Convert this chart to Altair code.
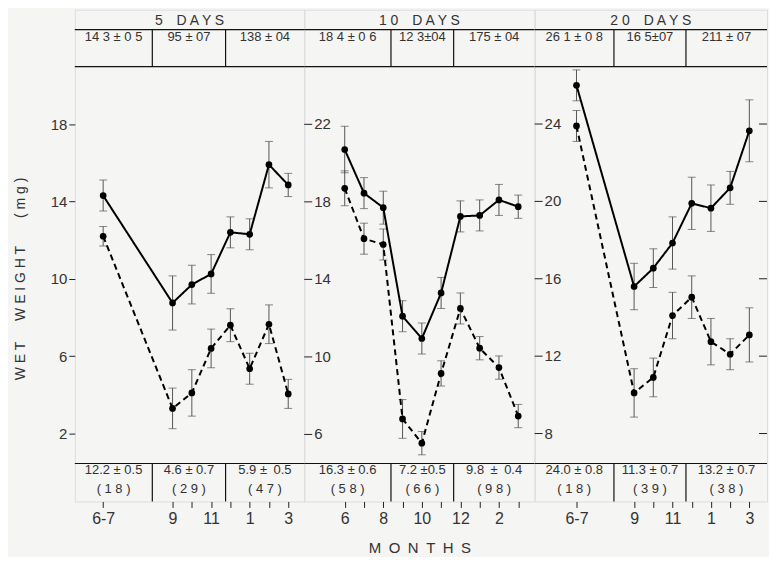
import altair as alt
import pandas as pd

# ---------------- data ----------------
SP = "\u2002"
PANEL_TITLES = ["5" + SP * 2 + "D A Y S", "1 0" + SP * 2 + "D A Y S", "2 0" + SP * 2 + "D A Y S"]
HEADER_VALUES = [
    ["14 3 ± 0 5", "95 ± 07", "138 ± 04"],
    ["18 4 ± 0 6", "12 3±04", "175 ± 04"],
    ["26 1 ± 0 8", "16 5±07", "211 ± 07"],
]
FOOTER_MEANS = [
    ["12.2 ± 0.5", "4.6 ± 0.7", "5.9 ±" + SP + "0.5"],
    ["16.3 ± 0.6", "7.2 ±0.5", "9.8" + SP + "±" + SP + "0.4"],
    ["24.0 ± 0.8", "11.3 ± 0.7", "13.2 ± 0.7"],
]
FOOTER_COUNTS = [
    ["( 1 8 )", "( 2 9 )", "( 4 7 )"],
    ["( 5 8 )", "( 6 6 )", "( 9 8 )"],
    ["( 1 8 )", "( 3 9 )", "( 3 8 )"],
]
Y_TITLE = "W E T" + SP * 3 + "W E I G H T" + SP * 4 + "( m g )"
X_TITLE = SP.join(list("MONTHS"))

# month positions (6-7 group, then monthly Sep..Mar)
P1_POS = [5.4, 9, 10, 11, 12, 13, 14, 15]
P2_POS = [6, 7, 8, 9, 10, 11, 12, 13, 14, 15]
P3_POS = [6, 9, 10, 11, 12, 13, 14, 15]
P1_TICKLABELS = ["6-7", "9", "", "11", "", "1", "", "3"]
P2_TICKLABELS = ["6", "", "8", "", "10", "", "12", "", "2", ""]
P3_TICKLABELS = ["6-7", "9", "", "11", "", "1", "", "3"]

P1_SOLID = [14.3, 8.75, 9.7, 10.25, 12.4, 12.3, 15.9, 14.85]
P1_SOLID_ERR = [0.8, 1.4, 1.0, 1.0, 0.8, 0.8, 1.2, 0.6]
P1_DASH = [12.2, 3.3, 4.1, 6.4, 7.6, 5.35, 7.65, 4.05]
P1_DASH_ERR = [0.5, 1.05, 1.2, 1.0, 0.85, 0.8, 1.0, 0.75]

P2_SOLID = [20.7, 18.45, 17.7, 12.1, 10.95, 13.3, 17.25, 17.3, 18.1, 17.75]
P2_SOLID_ERR = [1.2, 0.8, 0.85, 0.8, 0.8, 0.8, 0.8, 0.8, 0.8, 0.6]
P2_DASH = [18.7, 16.1, 15.8, 6.8, 5.55, 9.15, 12.5, 10.45, 9.45, 6.95]
P2_DASH_ERR = [0.9, 0.8, 0.8, 1.0, 0.6, 0.65, 0.8, 0.6, 0.6, 0.6]

P3_SOLID = [26.0, 15.6, 16.55, 17.85, 19.9, 19.65, 20.7, 23.65]
P3_SOLID_ERR = [0.8, 1.2, 1.0, 1.35, 1.35, 1.2, 0.85, 1.6]
P3_DASH = [23.9, 10.1, 10.9, 14.1, 15.05, 12.75, 12.1, 13.1]
P3_DASH_ERR = [0.8, 1.25, 1.0, 1.2, 1.1, 1.2, 0.8, 1.4]

Y_TICKS = [[2, 6, 10, 14, 18], [6, 10, 14, 18, 22], [8, 12, 16, 20, 24]]

PANELS = [
    (P1_POS, P1_TICKLABELS, P1_SOLID, P1_SOLID_ERR, P1_DASH, P1_DASH_ERR),
    (P2_POS, P2_TICKLABELS, P2_SOLID, P2_SOLID_ERR, P2_DASH, P2_DASH_ERR),
    (P3_POS, P3_TICKLABELS, P3_SOLID, P3_SOLID_ERR, P3_DASH, P3_DASH_ERR),
]

# ---------------- layout ----------------
WIDTHS = [230, 231, 233]
H = 493
ROW1 = 20
PLOT_TOP = 57
PLOT_BOT = 455
X_DOMAINS = [[3.93, 15.83], [3.9, 15.85], [3.82, 15.92]]
Y_DOMAINS = [[0.45, 20.97], [4.5, 24.98], [6.45, 26.97]]
DIVIDERS = [[7.95, 11.75], [8.4, 11.65], [7.95, 11.7]]
FONT = "Liberation Sans"
TXT = "#333333"
ONE = pd.DataFrame({"k": [0]})


def label_expr(pos, labels):
    expr = "''"
    for p, l in reversed(list(zip(pos, labels))):
        expr = f"datum.value == {p} ? '{l}' : ({expr})"
    return expr


def make_panel(i):
    pos, labels, solid, serr, dash, derr = PANELS[i]
    W = WIDTHS[i]
    rows = []
    for s, vals, errs in (("solid", solid, serr), ("dashed", dash, derr)):
        for t, v, e in zip(pos, vals, errs):
            rows.append(dict(t=t, v=v, lo=v - e, hi=v + e, series=s))
    df = pd.DataFrame(rows)
    caps = pd.concat([df.assign(c=df["lo"]), df.assign(c=df["hi"])])

    xs = alt.Scale(domain=X_DOMAINS[i], nice=False, zero=False)
    ys = alt.Scale(domain=Y_DOMAINS[i], range=[PLOT_BOT, PLOT_TOP], nice=False, zero=False)
    xaxis = alt.Axis(
        values=pos, labelExpr=label_expr(pos, labels), tickSize=6, domain=False,
        grid=False, labelFontSize=16, labelPadding=3, labelColor=TXT, labelFont=FONT,
        tickColor="#222", labelFlush=False,
        title=X_TITLE if i == 1 else None, titleFontSize=15, titleFont=FONT,
        titleColor=TXT, titleFontWeight="normal", titlePadding=14,
    )
    if i == 0:
        yaxis = alt.Axis(values=Y_TICKS[0], title=None, grid=False, domain=False, tickSize=6,
                         labelFontSize=15, labelColor=TXT, labelFont=FONT, tickColor="#222")
    else:
        yaxis = None

    def X(f):
        return alt.X(f, type="quantitative", scale=xs, axis=xaxis)

    def Y(f):
        return alt.Y(f, type="quantitative", scale=ys, axis=yaxis)

    layers = []
    layers.append(alt.Chart(df).mark_rule(color="#555", strokeWidth=1).encode(
        x=X("t"), y=Y("lo"), y2="hi"))
    layers.append(alt.Chart(caps).mark_tick(orient="horizontal", size=8, thickness=1, color="#555").encode(
        x=X("t"), y=Y("c")))
    layers.append(alt.Chart(df).mark_line(color="black", strokeWidth=2).encode(
        x=X("t"), y=Y("v"),
        strokeDash=alt.StrokeDash("series:N", scale=alt.Scale(domain=["solid", "dashed"], range=[[1, 0], [6, 4]]), legend=None)))
    layers.append(alt.Chart(df).mark_circle(size=45, color="black", opacity=1).encode(
        x=X("t"), y=Y("v")))

    # inner y ticks and labels (panels 2, 3)
    if i > 0:
        tdf = pd.DataFrame({"v": Y_TICKS[i], "lab": [str(v) for v in Y_TICKS[i]]})
        layers.append(alt.Chart(tdf).mark_rule(color="#222", strokeWidth=1).encode(
            x=alt.value(0), x2=alt.value(8), y=Y("v")))
        layers.append(alt.Chart(tdf).mark_text(align="left", baseline="middle", fontSize=15, font=FONT, color=TXT).encode(
            x=alt.value(10), y=Y("v"), text="lab:N"))
        if i == 2:
            layers.append(alt.Chart(tdf).mark_rule(color="#222", strokeWidth=1).encode(
                x=alt.value(W - 8), x2=alt.value(W), y=Y("v")))

    # table lines
    for yy in (ROW1, PLOT_TOP, PLOT_BOT):
        layers.append(alt.Chart(ONE).mark_rule(color="#111", strokeWidth=1.2).encode(
            x=alt.value(0), x2=alt.value(W), y=alt.value(yy)))
    ddf = pd.DataFrame({"t": DIVIDERS[i]})
    layers.append(alt.Chart(ddf).mark_rule(color="#111", strokeWidth=1.2).encode(
        x=X("t"), y=alt.value(ROW1), y2=alt.value(PLOT_TOP)))
    layers.append(alt.Chart(ddf).mark_rule(color="#111", strokeWidth=1.2).encode(
        x=X("t"), y=alt.value(PLOT_BOT), y2=alt.value(H)))

    # table texts
    edges = [X_DOMAINS[i][0]] + DIVIDERS[i] + [X_DOMAINS[i][1]]
    centers = [(edges[k] + edges[k + 1]) / 2 for k in range(3)]
    layers.append(alt.Chart(pd.DataFrame({"lab": [PANEL_TITLES[i]]})).mark_text(
        fontSize=14, font=FONT, color=TXT, baseline="middle").encode(
        x=alt.value(W / 2), y=alt.value(ROW1 / 2 + 1), text="lab:N"))
    hdf = pd.DataFrame({"t": centers, "lab": HEADER_VALUES[i]})
    layers.append(alt.Chart(hdf).mark_text(fontSize=13, font=FONT, color=TXT, baseline="middle").encode(
        x=X("t"), y=alt.value(27), text="lab:N"))
    fdf = pd.DataFrame({"t": centers, "m": FOOTER_MEANS[i], "n": FOOTER_COUNTS[i]})
    layers.append(alt.Chart(fdf).mark_text(fontSize=13, font=FONT, color=TXT, baseline="middle").encode(
        x=X("t"), y=alt.value(PLOT_BOT + 7), text="m:N"))
    layers.append(alt.Chart(fdf).mark_text(fontSize=13, font=FONT, color=TXT, baseline="middle").encode(
        x=X("t"), y=alt.value(PLOT_BOT + 26), text="n:N"))

    if i == 0:
        layers.append(alt.Chart(pd.DataFrame({"lab": [Y_TITLE]})).mark_text(
            angle=270, fontSize=14, font=FONT, color=TXT, baseline="middle").encode(
            x=alt.value(-54), y=alt.value(270), text="lab:N"))

    return alt.layer(*layers).properties(width=W, height=H)


chart = alt.hconcat(make_panel(0), make_panel(1), make_panel(2), spacing=0, bounds="flush").resolve_scale(
    x="independent", y="independent"
).configure_view(stroke="black", strokeWidth=1.5).configure(
    background="#f5f5f3", padding={"left": 5, "top": 0, "right": 0, "bottom": 0}
)

chart.save("out.html", embed_options={"renderer": "svg", "actions": False})
